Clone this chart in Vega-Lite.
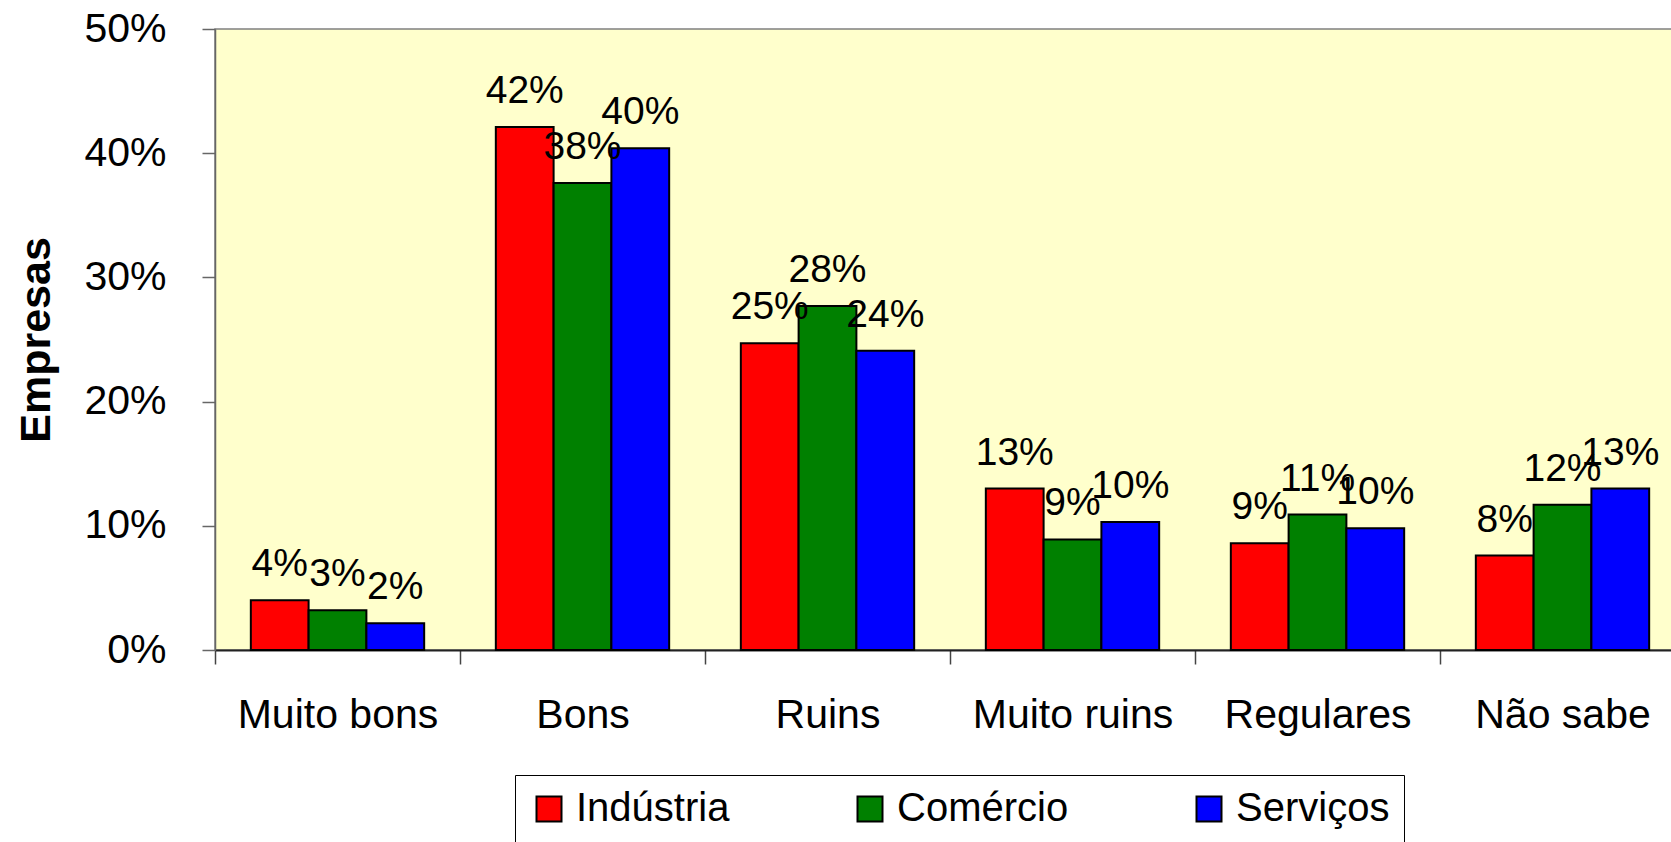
{
  "$schema": "https://vega.github.io/schema/vega-lite/v6.json",
  "width": 1470,
  "height": 621,
  "autosize": "none",
  "padding": {"left": 215, "top": 29, "right": 0, "bottom": 192},
  "background": "white",
  "config": {
    "font": "Liberation Sans",
    "view": {"fill": "#FFFFCC", "stroke": "#808080", "strokeWidth": 1.5}
  },
  "data": {
    "values": [
      {"categoria": "Muito bons", "setor": "Indústria", "valor": 0.040},
      {"categoria": "Muito bons", "setor": "Comércio", "valor": 0.032},
      {"categoria": "Muito bons", "setor": "Serviços", "valor": 0.0215},
      {"categoria": "Bons", "setor": "Indústria", "valor": 0.421},
      {"categoria": "Bons", "setor": "Comércio", "valor": 0.376},
      {"categoria": "Bons", "setor": "Serviços", "valor": 0.404},
      {"categoria": "Ruins", "setor": "Indústria", "valor": 0.247},
      {"categoria": "Ruins", "setor": "Comércio", "valor": 0.277},
      {"categoria": "Ruins", "setor": "Serviços", "valor": 0.241},
      {"categoria": "Muito ruins", "setor": "Indústria", "valor": 0.130},
      {"categoria": "Muito ruins", "setor": "Comércio", "valor": 0.089},
      {"categoria": "Muito ruins", "setor": "Serviços", "valor": 0.103},
      {"categoria": "Regulares", "setor": "Indústria", "valor": 0.086},
      {"categoria": "Regulares", "setor": "Comércio", "valor": 0.109},
      {"categoria": "Regulares", "setor": "Serviços", "valor": 0.098},
      {"categoria": "Não sabe", "setor": "Indústria", "valor": 0.076},
      {"categoria": "Não sabe", "setor": "Comércio", "valor": 0.117},
      {"categoria": "Não sabe", "setor": "Serviços", "valor": 0.130}
    ]
  },
  "encoding": {
    "x": {
      "field": "categoria",
      "type": "nominal",
      "sort": ["Muito bons", "Bons", "Ruins", "Muito ruins", "Regulares", "Não sabe"],
      "scale": {"paddingInner": 0, "paddingOuter": 0},
      "axis": {
        "title": null,
        "labelAngle": 0,
        "labelFontSize": 41,
        "labelColor": "black",
        "labelPadding": 31,
        "labelLimit": 0,
        "tickBand": "extent",
        "tickSize": 14,
        "tickColor": "#444444",
        "tickWidth": 1.5,
        "domainColor": "#222222",
        "domainWidth": 2
      }
    },
    "xOffset": {
      "field": "setor",
      "type": "nominal",
      "sort": ["Indústria", "Comércio", "Serviços"],
      "scale": {"paddingInner": 0, "paddingOuter": 0.62}
    },
    "y": {
      "field": "valor",
      "type": "quantitative",
      "scale": {"domain": [0, 0.5]},
      "axis": {
        "format": ".0%",
        "values": [0, 0.1, 0.2, 0.3, 0.4, 0.5],
        "grid": false,
        "labelFontSize": 41,
        "labelColor": "black",
        "labelPadding": 36,
        "tickSize": 13,
        "tickColor": "#666666",
        "tickWidth": 1.5,
        "domainColor": "#666666",
        "domainWidth": 1.5,
        "title": "Empresas",
        "titleFontSize": 43,
        "titleFontWeight": "bold",
        "titleColor": "black",
        "titleX": -166,
        "titleBaseline": "alphabetic"
      }
    }
  },
  "layer": [
    {
      "mark": {"type": "bar", "stroke": "black", "strokeWidth": 2},
      "encoding": {
        "color": {
          "field": "setor",
          "type": "nominal",
          "scale": {
            "domain": ["Indústria", "Comércio", "Serviços"],
            "range": ["#FF0000", "#008000", "#0000FF"]
          },
          "legend": {
            "orient": "none",
            "legendX": 300,
            "legendY": 746,
            "direction": "horizontal",
            "title": null,
            "gridAlign": "none",
            "symbolType": "square",
            "symbolSize": 625,
            "symbolStrokeColor": "black",
            "symbolStrokeWidth": 2,
            "symbolOpacity": 1,
            "labelFontSize": 40,
            "labelColor": "black",
            "labelLimit": 0,
            "labelOffset": 7,
            "columnPadding": 120,
            "padding": 14,
            "strokeColor": "black",
            "fillColor": "white"
          }
        }
      }
    },
    {
      "mark": {"type": "text", "dy": -24, "baseline": "alphabetic", "fontSize": 39, "color": "black"},
      "encoding": {
        "text": {"field": "valor", "type": "quantitative", "format": ".0%"}
      }
    }
  ]
}
